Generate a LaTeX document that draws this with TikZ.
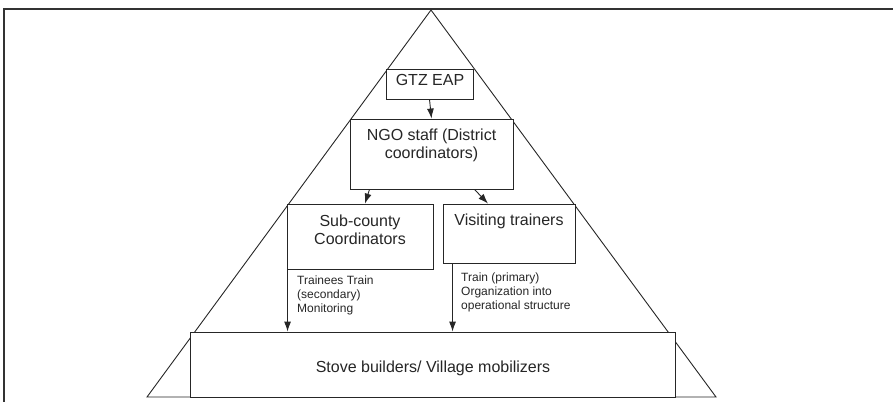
\documentclass[tikz,border=0pt]{standalone}
\usepackage{fontspec}
\setmainfont{Liberation Sans}
\usetikzlibrary{arrows.meta,calc}
\begin{document}
\begin{tikzpicture}[x=1pt,y=-1pt,
  box/.style={draw=black!85,line width=0.9pt,fill=white,inner sep=0pt,rectangle},
  big/.style={font=\fontsize{16}{18}\selectfont,align=center,inner sep=0pt,text=black!85},
  small/.style={font=\fontsize{12}{14}\selectfont,align=left,inner sep=0pt,anchor=north west,text=black!85},
  arr/.style={draw=black!85,line width=0.9pt,-{Latex[length=10pt,width=7pt]}},
  edgeline/.style={draw=black!85,line width=0.9pt}]
\useasboundingbox (0,0) rectangle (893,402);
\draw[line width=1.3pt,black!80] (893,9) -- (4,9) -- (4,402);
\draw[edgeline] (147,397) -- (431,10) -- (716,397) -- cycle;
\node[box,minimum width=87pt,minimum height=30pt] (gtz) at (429.5,84) {};
\node[box,minimum width=163pt,minimum height=70pt] (ngo) at (431.5,154) {};
\node[box,minimum width=146pt,minimum height=65pt] (sub) at (360,236.5) {};
\node[box,minimum width=132pt,minimum height=59pt] (vis) at (509,233.5) {};
\node[box,minimum width=485pt,minimum height=65pt] (stove) at (432.5,364.5) {};
\node[big] (gtzt) at (430,80) {GTZ EAP};
\node[big] (ngot) at (431.5,145) {NGO staff (District\\coordinators)};
\node[big] (subt) at (360,230) {Sub-county\\Coordinators};
\node[big] (vist) at (509,221) {Visiting trainers};
\node[big] (stovet) at (433,368) {Stove builders/ Village mobilizers};
\node[small] (lt) at (297,276) {Trainees Train\\(secondary)\\Monitoring};
\node[small] (rt) at (461,273) {Train (primary)\\Organization into\\operational structure};
\draw[arr] (gtz.south) -- (ngo.north);
\draw[arr] ([xshift=-62pt]ngo.south) -- ([xshift=5pt]sub.north);
\draw[arr] ([xshift=43pt]ngo.south) -- ([xshift=-21pt]vis.north);
\draw[arr] ([xshift=1pt]sub.south west) -- ([xshift=1pt]sub.south west |- stove.north);
\draw[arr] ([xshift=10pt]vis.south west) -- ([xshift=10pt]vis.south west |- stove.north);
\end{tikzpicture}
\end{document}
